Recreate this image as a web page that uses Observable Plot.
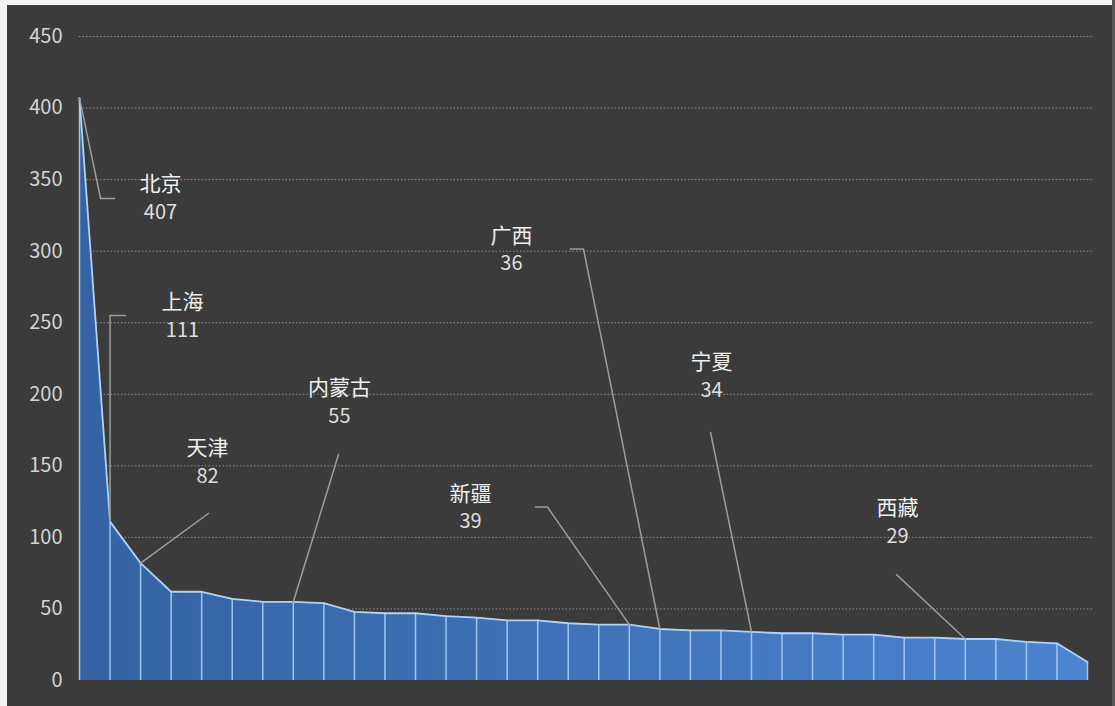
<!DOCTYPE html>
<html>
<head>
<meta charset="utf-8">
<script src="https://cdn.jsdelivr.net/npm/d3@7"></script>
<script src="https://cdn.jsdelivr.net/npm/@observablehq/plot@0.6"></script>
<style>
  html, body { margin: 0; padding: 0; background: #3b3b3b; }
  #wrap { position: relative; width: 1115px; height: 706px; overflow: hidden; }
  .strip { position: absolute; }
</style>
</head>
<body>
<div id="wrap"></div>
<script>
// ---- data ----
const ranks = d3.range(1, 35);
const values = [407, 111, 82, 62, 62, 57, 55, 55, 54, 48, 47, 47, 45, 44, 42, 42, 40, 39, 39,
                36, 35, 35, 34, 33, 33, 32, 32, 30, 30, 29, 29, 27, 26, 13];
const labelNames = ["北京", "上海", "天津", "内蒙古", "新疆", "广西", "宁夏", "西藏"];
const labelRank = [1, 2, 3, 8, 19, 20, 23, 30];
const yTicks = [0, 50, 100, 150, 200, 250, 300, 350, 400, 450];

// ---- annotation layout (data units: x = rank, y = value) ----
const labelPos = [[3.65, 336.8], [4.37, 254.3], [5.19, 152.3], [9.51, 194.3],
                  [13.8, 120.5], [15.14, 300.8], [21.69, 212.4], [27.78, 110.4]];
const leaderBends = [
  [[1.69, 336.8], [2.15, 336.8]],
  [[2.0, 255], [2.5, 255]],
  [[5.22, 116.7]],
  [[9.48, 157.9]],
  [[16.32, 121.2], [15.93, 121.2]],
  [[17.5, 301.5], [17.07, 301.5]],
  [[21.66, 173.3]],
  [[27.75, 74]]
];

const data = values.map((v, i) => ({rank: ranks[i], value: v}));
const labels = labelNames.map((name, k) => ({
  name,
  value: values[labelRank[k] - 1],
  x: labelPos[k][0],
  y: labelPos[k][1]
}));
const leaders = labelNames.flatMap((name, k) => {
  const r = labelRank[k];
  return [{name, x: r, y: values[r - 1]}, ...leaderBends[k].map(([x, y]) => ({name, x, y}))];
});

const font = "'Noto Sans CJK SC', 'Noto Sans', sans-serif";

const chart = Plot.plot({
  width: 1115,
  height: 706,
  marginLeft: 79,
  marginRight: 23,
  marginTop: 36,
  marginBottom: 26,
  style: {background: "#3b3b3b", color: "#d4d4d4", fontSize: "20px", fontFamily: font},
  x: {domain: [1, 34], range: [79, 1087], axis: null},
  y: {domain: [0, 450], ticks: yTicks, tickSize: 0, tickPadding: 17, label: null, tickFormat: d => d},
  marks: [
    Plot.ruleY(yTicks.filter(d => d > 0), {stroke: "#8e8e8e", strokeWidth: 1, strokeDasharray: "1.5,2"}),
    Plot.areaY(data, {x: "rank", y: "value", fill: "url(#areaGrad)"}),
    Plot.ruleX(data, {x: "rank", y1: 0, y2: "value", stroke: "#9fc5ef", strokeWidth: 1.5}),
    Plot.lineY(data, {x: "rank", y: "value", stroke: "#b3d2f3", strokeWidth: 1.8}),
    Plot.line(leaders, {x: "x", y: "y", z: "name", stroke: "#9c9c9c", strokeWidth: 1.5}),
    Plot.text(labels, {x: "x", y: "y", text: "name", dy: -14, fill: "#f0f0f0", fontSize: 21, fontFamily: font}),
    Plot.text(labels, {x: "x", y: "y", text: d => String(d.value), dy: 14, fill: "#dedede", fontSize: 20, fontFamily: font})
  ]
});

const svg = chart.tagName.toLowerCase() === "svg" ? chart : chart.querySelector("svg");
const defs = d3.select(svg).insert("defs", ":first-child");
const grad = defs.append("linearGradient")
  .attr("id", "areaGrad")
  .attr("gradientUnits", "objectBoundingBox")
  .attr("x1", 0).attr("y1", 0).attr("x2", 1).attr("y2", 0);
grad.append("stop").attr("offset", "0%").attr("stop-color", "#3462a3");
grad.append("stop").attr("offset", "100%").attr("stop-color", "#4b84cf");

const wrap = document.getElementById("wrap");
wrap.appendChild(chart);
[["0px", "0px", "1115px", "5px", "#f3f3f3"],
 ["0px", "0px", "7px", "706px", "#f3f3f3"],
 ["1112px", "0px", "3px", "706px", "#585858"]].forEach(([l, t, w, h, c]) => {
  const s = document.createElement("div");
  s.className = "strip";
  Object.assign(s.style, {left: l, top: t, width: w, height: h, background: c});
  wrap.appendChild(s);
});
</script>
</body>
</html>
